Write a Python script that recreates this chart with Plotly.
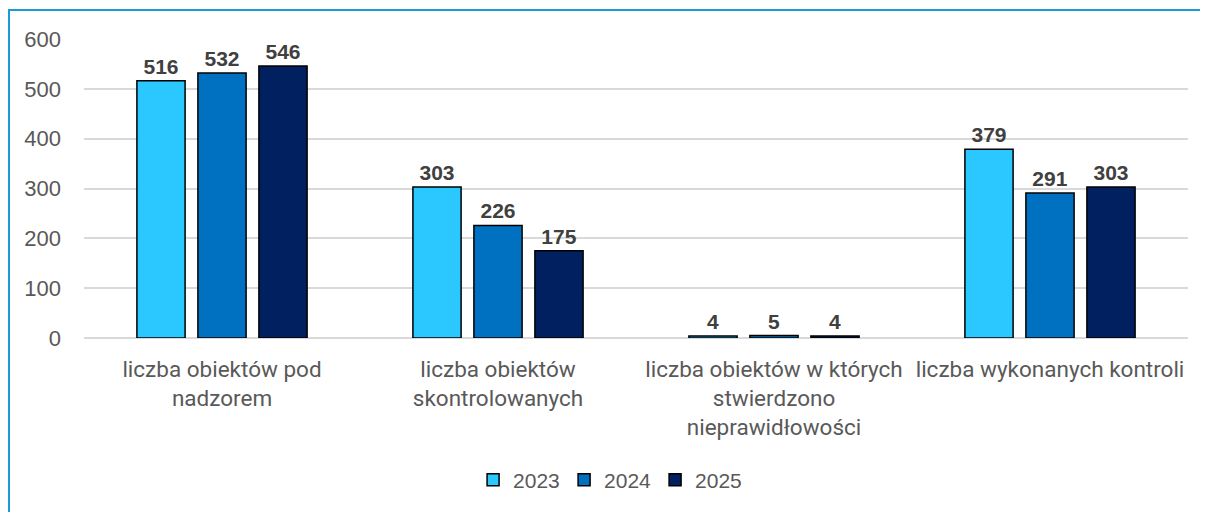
import plotly.graph_objects as go

categories = [
    "liczba obiektów pod<br>nadzorem",
    "liczba obiektów<br>skontrolowanych",
    "liczba obiektów w których<br>stwierdzono<br>nieprawidłowości",
    "liczba wykonanych kontroli",
]
series_names = ["2023", "2024", "2025"]
values_2023 = [516, 303, 4, 379]
values_2024 = [532, 226, 5, 291]
values_2025 = [546, 175, 4, 303]
colors = ["#2BC8FF", "#0070C0", "#002060"]
y_ticks = [0, 100, 200, 300, 400, 500, 600]

fig = go.Figure()
for name, vals, col in zip(series_names, [values_2023, values_2024, values_2025], colors):
    fig.add_trace(go.Bar(
        x=categories, y=vals, name=name,
        marker=dict(color=col, line=dict(color="#000000", width=1.5)),
        text=[str(v) for v in vals], textposition="outside",
        textfont=dict(family="Liberation Sans, Arial", size=21, color="#404040"),
        texttemplate="<b>%{text}</b>", cliponaxis=False,
    ))

fig.update_layout(
    width=1208, height=512,
    margin=dict(l=76, r=28, t=31, b=182),
    paper_bgcolor="white", plot_bgcolor="white",
    barmode="group", bargap=0.337, bargroupgap=0.21,
    showlegend=True,
    legend=dict(orientation="h", xref="container", x=0.498, xanchor="center",
                yref="container", y=0.078, yanchor="middle",
                font=dict(family="Liberation Sans, Arial", size=21, color="#595959"),
                itemwidth=30, entrywidth=46, traceorder="normal"),
    xaxis=dict(showgrid=False, showline=False, ticks="", ticklabelstandoff=15,
               tickfont=dict(family="Roboto", size=22.5, color="#595959")),
    yaxis=dict(range=[0, 600], tickvals=y_ticks, showgrid=True, gridcolor="#D9D9D9",
               gridwidth=1.5, zeroline=True, zerolinecolor="#D9D9D9", zerolinewidth=1.5,
               showline=False, ticks="", ticklabelstandoff=22,
               tickfont=dict(family="Liberation Sans, Arial", size=22, color="#595959")),
    shapes=[dict(type="rect", xref="paper", yref="paper",
                 x0=(1 - 76) / 1104, x1=1.05, y0=-0.75, y1=1 + (31 - 2) / 299,
                 line=dict(color="#1E9BD7", width=2), layer="below")],
)
fig.write_html("out.html")
